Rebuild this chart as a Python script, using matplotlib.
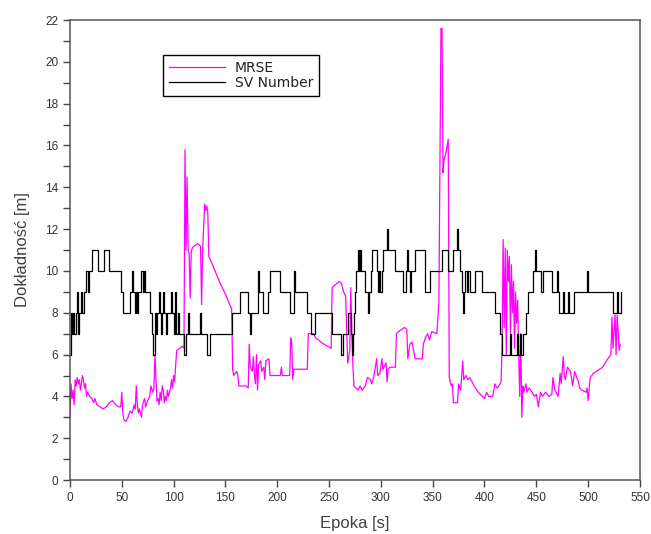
import matplotlib.pyplot as plt
from matplotlib.ticker import MultipleLocator

plt.rcParams['font.family'] = ['Liberation Sans', 'DejaVu Sans']

# number of visible satellites: (epoch, value) change points, drawn as steps
sv_epoch = [0, 1, 2, 3, 4, 6, 7, 8, 9, 11, 12, 14, 15, 17, 18, 21, 27, 33, 38, 49,
            51, 58, 60, 61, 63, 64, 65, 66, 69, 70, 71, 72, 77, 79, 80, 82, 83, 84, 86, 87,
            88, 89, 90, 91, 93, 94, 97, 98, 100, 101, 102, 104, 105, 110, 112, 114, 115, 125, 126, 132,
            135, 156, 164, 172, 174, 175, 181, 182, 186, 191, 193, 203, 212, 216, 217, 229, 233, 236, 253, 262,
            263, 268, 270, 271, 272, 273, 274, 275, 276, 278, 279, 280, 281, 285, 288, 289, 290, 291, 296, 297,
            298, 299, 301, 302, 306, 307, 314, 321, 324, 325, 326, 328, 329, 333, 343, 347, 359, 365, 370, 373,
            374, 376, 378, 379, 380, 381, 383, 384, 386, 391, 398, 410, 415, 417, 425, 426, 431, 432, 434, 435,
            437, 440, 442, 447, 449, 450, 455, 456, 465, 470, 471, 472, 476, 477, 481, 482, 486, 499, 500, 524,
            528, 529, 532]
sv_value = [6, 8, 7, 8, 7, 8, 9, 7, 8, 9, 8, 9, 10, 9, 10, 11, 10, 11, 10, 9,
            8, 9, 10, 9, 8, 9, 8, 9, 10, 9, 10, 9, 8, 7, 6, 8, 7, 8, 9, 8,
            7, 8, 9, 8, 7, 8, 9, 8, 7, 9, 7, 8, 7, 6, 7, 8, 7, 8, 7, 6,
            7, 8, 9, 8, 7, 8, 10, 9, 8, 9, 10, 9, 8, 10, 9, 8, 7, 8, 7, 6,
            7, 8, 8, 7, 6, 7, 8, 9, 10, 11, 10, 11, 10, 9, 8, 9, 10, 11, 10, 9,
            10, 9, 10, 11, 12, 11, 10, 9, 10, 11, 10, 9, 10, 11, 9, 10, 11, 10, 11, 12,
            11, 10, 9, 8, 9, 10, 9, 10, 9, 10, 9, 8, 7, 6, 7, 6, 7, 6, 7, 6,
            7, 8, 9, 10, 11, 10, 9, 10, 9, 10, 9, 8, 9, 8, 9, 8, 9, 10, 9, 8,
            9, 8, 9]

# position error (MRSE) in metres
mrse_epoch = [0, 1, 2, 3, 4, 5, 6, 7, 8, 9, 10, 11, 12, 13, 14, 15, 16, 17, 19, 21,
              23, 24, 26, 29, 32, 35, 38, 41, 44, 47, 49, 50, 51, 52, 54, 56, 58, 60, 62, 63,
              64, 65, 66, 67, 69, 70, 72, 73, 75, 77, 78, 80, 81, 82, 83, 84, 85, 86, 87, 88,
              89, 90, 91, 92, 93, 94, 95, 97, 98, 99, 100, 101, 102, 103, 106, 108, 110, 111, 112, 113,
              114, 115, 116, 117, 118, 120, 123, 126, 127, 128, 130, 131, 132, 133, 134, 140, 145, 150, 154, 156,
              157, 158, 161, 162, 163, 170, 172, 173, 174, 176, 177, 178, 179, 180, 181, 182, 184, 185, 187, 188,
              189, 192, 193, 195, 203, 204, 205, 212, 213, 214, 215, 216, 229, 230, 235, 237, 245, 252, 253, 255,
              260, 262, 264, 266, 267, 268, 270, 271, 272, 273, 274, 276, 278, 280, 282, 285, 287, 290, 291, 293,
              296, 297, 299, 301, 302, 305, 306, 307, 309, 314, 315, 317, 323, 325, 326, 328, 330, 333, 340, 341,
              343, 345, 347, 349, 354, 356, 358, 359, 360, 361, 363, 365, 366, 368, 369, 370, 374, 375, 377, 379,
              380, 382, 384, 386, 390, 394, 398, 400, 402, 404, 408, 410, 412, 414, 416, 417, 418, 419, 420, 421,
              422, 423, 424, 425, 426, 427, 428, 429, 430, 431, 432, 433, 434, 435, 436, 437, 438, 440, 441, 443,
              446, 448, 450, 452, 454, 456, 459, 462, 465, 466, 468, 471, 473, 474, 476, 477, 478, 480, 483, 485,
              487, 489, 490, 492, 494, 498, 499, 500, 502, 505, 514, 519, 522, 523, 524, 526, 527, 528, 530, 531]
mrse_value = [3.0, 4.6, 3.9, 4.3, 3.6, 4.8, 4.5, 4.9, 4.6, 4.8, 4.3, 4.6, 5.0, 4.8, 4.4, 4.6, 4.0, 4.2, 4.0, 3.9,
              3.7, 3.9, 3.6, 3.5, 3.4, 3.5, 3.7, 3.8, 3.6, 3.5, 3.5, 4.2, 3.2, 2.9, 2.8, 3.0, 3.3, 3.2, 3.6, 3.4,
              4.5, 3.6, 3.2, 3.4, 3.0, 3.6, 3.9, 3.5, 3.8, 4.0, 4.5, 4.2, 4.4, 6.0, 4.8, 3.8, 3.9, 3.6, 4.2, 3.8,
              4.5, 4.3, 3.7, 4.0, 3.8, 4.3, 4.0, 4.4, 4.8, 4.4, 5.0, 4.7, 5.5, 6.2, 6.3, 6.4, 6.3, 15.8, 11.0, 14.5,
              11.0, 10.8, 8.7, 10.9, 11.1, 11.2, 11.3, 11.2, 8.4, 11.0, 13.2, 12.9, 13.1, 12.8, 10.7, 10.0, 9.4, 8.9, 8.4, 8.2,
              5.3, 5.0, 5.2, 5.0, 4.5, 4.5, 4.4, 6.5, 5.4, 5.2, 5.9, 5.0, 4.6, 6.0, 4.3, 5.5, 5.7, 5.2, 5.4, 4.8,
              5.7, 5.8, 5.0, 5.0, 5.0, 5.4, 5.0, 5.0, 6.8, 6.5, 4.8, 5.3, 5.3, 7.0, 7.0, 6.8, 6.5, 6.3, 9.2, 9.3,
              9.5, 9.4, 9.0, 8.8, 7.2, 5.6, 6.2, 9.2, 7.0, 5.5, 4.5, 4.4, 4.3, 4.5, 4.3, 4.5, 4.9, 4.8, 4.6, 4.9,
              5.8, 5.0, 5.1, 5.8, 5.3, 5.6, 4.7, 5.3, 5.4, 5.4, 7.0, 7.1, 7.3, 7.2, 5.8, 6.5, 6.6, 5.8, 5.8, 6.5,
              6.8, 7.0, 6.7, 7.1, 7.0, 8.5, 21.6, 21.6, 14.7, 15.3, 15.7, 16.3, 4.9, 4.5, 4.6, 3.7, 3.7, 4.6, 4.3, 5.7,
              4.8, 5.0, 4.8, 4.9, 4.5, 4.2, 4.0, 3.9, 4.2, 4.0, 4.0, 4.6, 4.4, 4.5, 4.7, 6.4, 11.5, 7.3, 11.1, 6.0,
              11.0, 9.5, 10.7, 7.0, 10.3, 8.0, 9.5, 6.3, 9.0, 7.5, 8.6, 6.0, 4.0, 7.0, 3.0, 4.5, 4.2, 4.6, 4.2, 4.4,
              4.2, 4.0, 4.1, 3.5, 4.2, 4.0, 4.2, 4.0, 4.1, 4.9, 4.3, 4.0, 5.1, 4.6, 5.9, 5.0, 4.8, 5.4, 5.2, 4.5,
              5.2, 4.9, 4.8, 4.4, 4.3, 4.2, 4.4, 3.8, 4.9, 5.1, 5.4, 5.8, 6.0, 7.8, 6.3, 7.9, 6.0, 7.9, 6.2, 6.5]

fig = plt.figure(figsize=(6.51, 5.34), dpi=100)
ax = fig.add_axes([0.1075, 0.101, 0.8755, 0.8615])

ax.plot(mrse_epoch, mrse_value, color='#ff00ff', lw=0.9, label='MRSE')
ax.plot(sv_epoch, sv_value, color='black', lw=0.9, drawstyle='steps-post',
        label='SV Number')

ax.set_xlim(0, 550)
ax.set_ylim(0, 22)
ax.xaxis.set_major_locator(MultipleLocator(50))
ax.yaxis.set_major_locator(MultipleLocator(2))
ax.yaxis.set_minor_locator(MultipleLocator(1))
ax.tick_params(which='both', direction='out', length=5, width=1,
               color='#444444', labelsize=8.5, labelcolor='#333333')
ax.tick_params(top=False, right=False)
for side in ax.spines.values():
    side.set_color('#555555')
    side.set_linewidth(1.1)

ax.set_xlabel('Epoka [s]', fontsize=12, color='#404040', labelpad=9)
ax.set_ylabel('Dokładność [m]', fontsize=12, color='#404040', labelpad=11)

leg = ax.legend(loc='upper left', bbox_to_anchor=(0.163, 0.924),
                fancybox=False, framealpha=1, edgecolor='black',
                prop={'family': 'DejaVu Sans', 'size': 10},
                handlelength=4.0, handletextpad=0.72,
                borderpad=0.45, labelspacing=0.05, borderaxespad=0)
leg.get_frame().set_linewidth(1.0)
for t in leg.get_texts():
    t.set_color('#222222')

fig.savefig('out.png', dpi=100)
